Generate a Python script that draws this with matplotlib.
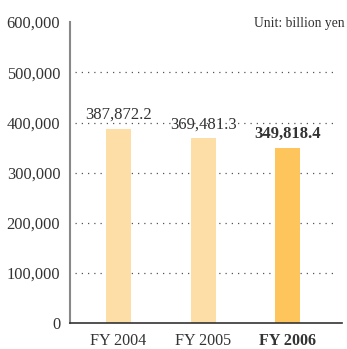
import matplotlib
matplotlib.use("Agg")
import matplotlib.pyplot as plt

years = ["FY 2004", "FY 2005", "FY 2006"]
values = [387872.2, 369481.3, 349818.4]
value_labels = ["387,872.2", "369,481.3", "349,818.4"]
yticks = [0, 100000, 200000, 300000, 400000, 500000, 600000]
ytick_labels = ["0", "100,000", "200,000", "300,000", "400,000", "500,000", "600,000"]

plt.rcParams["font.family"] = ["Liberation Serif", "DejaVu Serif"]
text_color = "#333333"

fig = plt.figure(figsize=(3.47, 3.49), dpi=100)
ax = fig.add_axes([0.2017, 0.0736, 0.784, 0.863])

x = list(range(len(years)))
colors = ["#fedea7", "#fedea7", "#fdc55c"]

# dotted guide lines behind the bars
ax.hlines(yticks[1:-1], -0.515, 2.59, colors="#555555", linestyles=(0, (1, 4)),
          linewidth=0.9, zorder=1)
ax.bar(x, values, width=0.296, color=colors, zorder=2)

for i, (v, lab) in enumerate(zip(values, value_labels)):
    bold = i == len(values) - 1
    ax.text(i, v + 11000, lab, ha="center", va="bottom", fontsize=12,
            color=text_color, fontweight="bold" if bold else "normal")

ax.set_xlim(-0.574, 2.645)
ax.set_ylim(0, 600000)
ax.set_yticks(yticks)
ax.set_yticklabels(ytick_labels, fontsize=11.8, color=text_color)
ax.set_xticks(x)
ax.set_xticklabels(years, fontsize=11.6, color=text_color)
ax.get_xticklabels()[-1].set_fontweight("bold")
ax.tick_params(length=0, pad=7)
ax.tick_params(axis="x", pad=7)

for side in ["top", "right"]:
    ax.spines[side].set_visible(False)
ax.spines["left"].set_color("#888888")
ax.spines["left"].set_linewidth(1.5)
ax.spines["bottom"].set_color("#333333")
ax.spines["bottom"].set_linewidth(1.2)

fig.text(0.994, 0.934, "Unit: billion yen", ha="right", va="center",
         fontsize=9.8, color=text_color)

fig.savefig("out.png", dpi=100)
